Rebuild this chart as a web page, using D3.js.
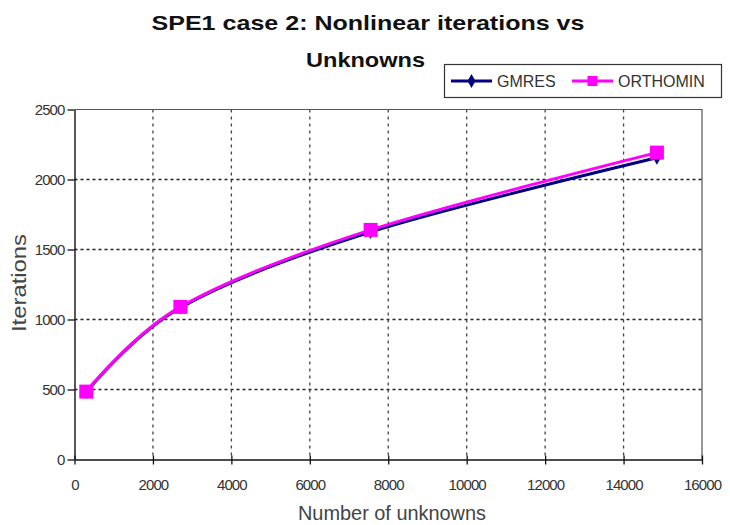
<!DOCTYPE html>
<html>
<head>
<meta charset="utf-8">
<script src="https://cdn.jsdelivr.net/npm/d3@7"></script>
<style>
  body { margin: 0; background: #fff; }
  svg { display: block; font-family: "Liberation Sans", Arial, sans-serif; }
</style>
</head>
<body>
<svg id="chart" width="730" height="525"></svg>
<script>
// ---- data ----
const unknowns = [300, 2700, 7550, 14850];
const gmres = [480, 1085, 1625, 2155];
const orthomin = [485, 1090, 1640, 2192];
const xTicks = [0, 2000, 4000, 6000, 8000, 10000, 12000, 14000, 16000];
const yTicks = [0, 500, 1000, 1500, 2000, 2500];
const seriesNames = ["GMRES", "ORTHOMIN"];
const titleLines = ["SPE1 case 2: Nonlinear iterations vs", "Unknowns"];

const svg = d3.select("#chart");
const L = 74.5, R = 702, T = 109.5, B = 459.5;
const x = d3.scaleLinear().domain([0, 16000]).range([L, R]);
const y = d3.scaleLinear().domain([0, 2500]).range([B, T]);

// gridlines
svg.append("g").selectAll("line").data(yTicks.filter(d => d > 0 && d < 2500)).join("line")
  .attr("x1", L).attr("x2", R).attr("y1", d => y(d)).attr("y2", d => y(d))
  .attr("stroke", "#222").attr("stroke-width", 1.3).attr("stroke-dasharray", "3,3");
svg.append("g").selectAll("line").data(xTicks.filter(d => d > 0 && d < 16000)).join("line")
  .attr("x1", d => x(d)).attr("x2", d => x(d)).attr("y1", T).attr("y2", B)
  .attr("stroke", "#444").attr("stroke-width", 1.3).attr("stroke-dasharray", "3,4");

// plot border (top & right)
svg.append("path").attr("d", `M${L},${T}H${R}V${B}`).attr("fill", "none")
  .attr("stroke", "#555").attr("stroke-width", 1.2);

// axes
const xAxis = d3.axisBottom(x).tickValues(xTicks).tickSize(5).tickSizeOuter(0).tickPadding(15).tickFormat(d3.format("d"));
const gx = svg.append("g").attr("transform", `translate(0,${B})`).call(xAxis);
gx.selectAll(".tick line").attr("y1", -4).attr("y2", 5);
const yAxis = d3.axisLeft(y).tickValues(yTicks).tickSize(7).tickSizeOuter(0).tickPadding(3).tickFormat(d3.format("d"));
const gy = svg.append("g").attr("transform", `translate(${L},0)`).call(yAxis);
[gx, gy].forEach(g => {
  g.select(".domain").attr("stroke", "#111").attr("stroke-width", 1.4);
  g.selectAll(".tick line").attr("stroke", "#111").attr("stroke-width", 1.3);
  g.selectAll(".tick text").attr("fill", "#333").attr("font-size", 15)
    .attr("font-family", "'Liberation Sans', Arial, sans-serif").attr("letter-spacing", -0.9);
});
gy.selectAll(".tick text").attr("dy", "0.34em");

// axis titles
svg.append("text").attr("x", 392).attr("y", 520).attr("text-anchor", "middle")
  .attr("font-size", 20).attr("fill", "#444").attr("textLength", 188).attr("lengthAdjust", "spacingAndGlyphs").text("Number of unknowns");
svg.append("text").attr("transform", "translate(26,283) rotate(-90)").attr("text-anchor", "middle")
  .attr("font-size", 20).attr("fill", "#444").attr("textLength", 98).attr("lengthAdjust", "spacingAndGlyphs").text("Iterations");

// title
const titleX = [368, 365.5], titleY = [30, 67], titleW = [433, 119];
svg.append("g").selectAll("text").data(titleLines).join("text")
  .attr("x", (d, i) => titleX[i]).attr("y", (d, i) => titleY[i]).attr("text-anchor", "middle")
  .attr("font-size", 21).attr("font-weight", "bold").attr("fill", "#111")
  .attr("textLength", (d, i) => titleW[i]).attr("lengthAdjust", "spacingAndGlyphs")
  .text(d => d);

// lines
const line = d3.line().x(d => x(d[0])).y(d => y(d[1])).curve(d3.curveCatmullRom.alpha(0));
const gData = unknowns.map((u, i) => [u, gmres[i]]);
const oData = unknowns.map((u, i) => [u, orthomin[i]]);
const diamond = d3.symbol().type(d3.symbolDiamond).size(55);

svg.append("path").datum(gData).attr("d", line).attr("fill", "none").attr("stroke", "#000080").attr("stroke-width", 3);
svg.append("g").selectAll("path").data(gData).join("path")
  .attr("d", diamond).attr("transform", d => `translate(${x(d[0])},${y(d[1])})`).attr("fill", "#000080");

svg.append("path").datum(oData).attr("d", line).attr("fill", "none").attr("stroke", "#ff00ff").attr("stroke-width", 3);
svg.append("g").selectAll("rect").data(oData).join("rect")
  .attr("x", d => x(d[0]) - 7).attr("y", d => y(d[1]) - 7).attr("width", 14).attr("height", 14).attr("fill", "#ff00ff");

// legend
const lg = svg.append("g");
lg.append("rect").attr("x", 444.5).attr("y", 64.5).attr("width", 277).attr("height", 33)
  .attr("fill", "#fff").attr("stroke", "#333").attr("stroke-width", 1.2);
const legendItems = [
  { name: seriesNames[0], color: "#000080", x0: 451, x1: 492, tx: 497, sym: "diamond" },
  { name: seriesNames[1], color: "#ff00ff", x0: 572, x1: 613, tx: 618, sym: "square" }
];
legendItems.forEach(it => {
  const cy = 81;
  lg.append("line").attr("x1", it.x0).attr("x2", it.x1).attr("y1", cy).attr("y2", cy)
    .attr("stroke", it.color).attr("stroke-width", 3);
  if (it.sym === "diamond") {
    lg.append("path").attr("d", diamond).attr("transform", `translate(${(it.x0 + it.x1) / 2},${cy})`).attr("fill", it.color);
  } else {
    lg.append("rect").attr("x", (it.x0 + it.x1) / 2 - 5).attr("y", cy - 5).attr("width", 10).attr("height", 10).attr("fill", it.color);
  }
  lg.append("text").attr("x", it.tx).attr("y", cy).attr("dy", "0.36em").attr("font-size", 16)
    .attr("fill", "#333").text(it.name);
});
</script>
</body>
</html>
